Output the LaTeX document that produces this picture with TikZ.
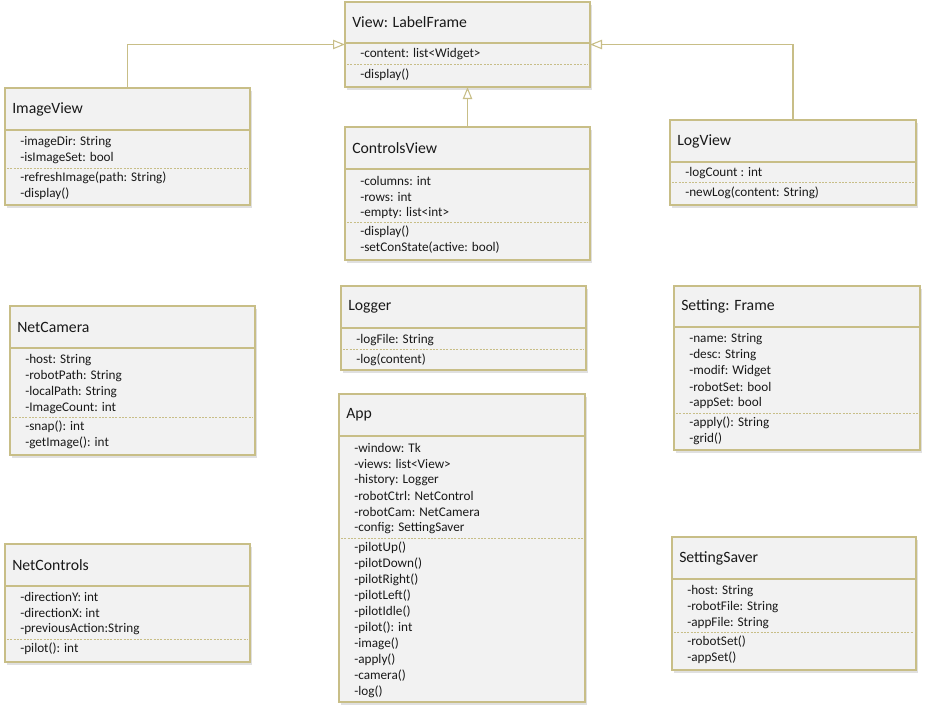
\documentclass[tikz,border=0pt]{standalone}
\usepackage{fontspec}
\setmainfont{Carlito}
\usetikzlibrary{arrows.meta}
\definecolor{bord}{RGB}{200,190,135}
\definecolor{boxfill}{RGB}{242,242,242}
\definecolor{txt}{RGB}{25,25,25}
\tikzset{
  classbox/.style={draw=bord, fill=boxfill, line width=1.1pt, inner sep=0pt, outer sep=0pt},
  boxshadow/.style={fill=black, opacity=0.12},
  classtitle/.style={anchor=west, font=\fontsize{11.8}{14}\selectfont, text=txt, inner sep=0pt},
  member/.style={anchor=west, font=\fontsize{9.9}{11}\selectfont, text=txt, inner sep=0pt},
  hdrsep/.style={draw=bord, line width=1.1pt},
  dsep/.style={draw=bord, line width=0.7pt, dash pattern=on 1.5pt off 1pt},
  inherit/.style={draw=bord, line width=0.8pt, -{Triangle[open, length=9pt, width=7pt, fill=white]}},
}
% id, x1, y1, x2, y2, header bottom, title, dashed y
\newcommand\umlclass[8]{%
  \fill[boxshadow] ({#2+2},{#3+3}) rectangle ({#4+2},{#5+3});
  \node[classbox, anchor=north west, minimum width={(#4-#2)*0.75pt}, minimum height={(#5-#3)*0.75pt}] (#1) at (#2,#3) {};
  \draw[hdrsep] (#2,#6) -- (#4,#6);
  \node[classtitle] (#1-title) at ({#2+7},{(#3+#6)/2}) {#7};
  \draw[dsep] ({#2+2},#8) -- ({#4-2},#8);
}
% id, box left x, first y, tag, list
\newcommand\mlist[5]{%
  \foreach \m [count=\i from 0] in {#5}{%
    \node[member] (#1-#4\i) at ({#2+15},{#3+16*\i}) {\m};
  }%
}
\begin{document}
\begin{tikzpicture}[x=0.75pt,y=-0.75pt]
\useasboundingbox (0,0) rectangle (926,711);
\fill[white] (0,0) rectangle (926,711);

% View: LabelFrame
\umlclass{view}{345}{2}{590}{87}{43}{View: LabelFrame}{64}
\mlist{view}{345}{54}{a}{-content: list<Widget>}
\mlist{view}{345}{75}{m}{-display()}

% ImageView
\umlclass{imageview}{5}{88}{250}{205}{130}{ImageView}{168}
\mlist{imageview}{5}{142}{a}{-imageDir: String, -isImageSet: bool}
\mlist{imageview}{5}{178}{m}{-refreshImage(path: String), -display()}

% ControlsView
\umlclass{controls}{345}{127}{590}{260}{169}{ControlsView}{222}
\mlist{controls}{345}{181}{a}{-columns: int, -rows: int, -empty: list<int>}
\mlist{controls}{345}{232}{m}{-display(), -setConState(active: bool)}

% LogView
\umlclass{logview}{670}{120}{916}{205}{162}{LogView}{182}
\mlist{logview}{670}{173}{a}{-logCount : int}
\mlist{logview}{670}{193}{m}{-newLog(content: String)}

% NetCamera
\umlclass{netcam}{10}{306}{255}{455}{348}{NetCamera}{417}
\mlist{netcam}{10}{360}{a}{-host: String, -robotPath: String, -localPath: String, -ImageCount: int}
\mlist{netcam}{10}{427}{m}{-snap(): int, -getImage(): int}

% Logger
\umlclass{logger}{341}{286}{586}{370}{328}{Logger}{349}
\mlist{logger}{341}{340}{a}{-logFile: String}
\mlist{logger}{341}{360}{m}{-log(content)}

% Setting: Frame
\umlclass{setting}{674}{286}{920}{450}{327}{Setting: Frame}{413}
\mlist{setting}{674}{339}{a}{-name: String, -desc: String, -modif: Widget, -robotSet: bool, -appSet: bool}
\mlist{setting}{674}{423}{m}{-apply(): String, -grid()}

% App
\umlclass{app}{339}{394}{585}{702}{436}{App}{538}
\mlist{app}{339}{448}{a}{-window: Tk, -views: list<View>, -history: Logger, -robotCtrl: NetControl, -robotCam: NetCamera, -config: SettingSaver}
\mlist{app}{339}{548}{m}{-pilotUp(), -pilotDown(), -pilotRight(), -pilotLeft(), -pilotIdle(), -pilot(): int, -image(), -apply(), -camera(), -log()}

% NetControls
\umlclass{netctrl}{5}{544}{250}{662}{586}{NetControls}{639}
\mlist{netctrl}{5}{597}{a}{-directionY: int, -directionX: int, -previousAction:String}
\mlist{netctrl}{5}{649}{m}{-pilot(): int}

% SettingSaver
\umlclass{saver}{672}{537}{916}{670}{579}{SettingSaver}{632}
\mlist{saver}{672}{591}{a}{-host: String, -robotFile: String, -appFile: String}
\mlist{saver}{672}{642}{m}{-robotSet(), -appSet()}

% Inheritance connectors
\draw[inherit] (imageview.north) |- (view.west);
\draw[inherit] (logview.north) |- (view.east);
\draw[inherit] (controls.north) -- (controls.north |- view.south);
\end{tikzpicture}
\end{document}
